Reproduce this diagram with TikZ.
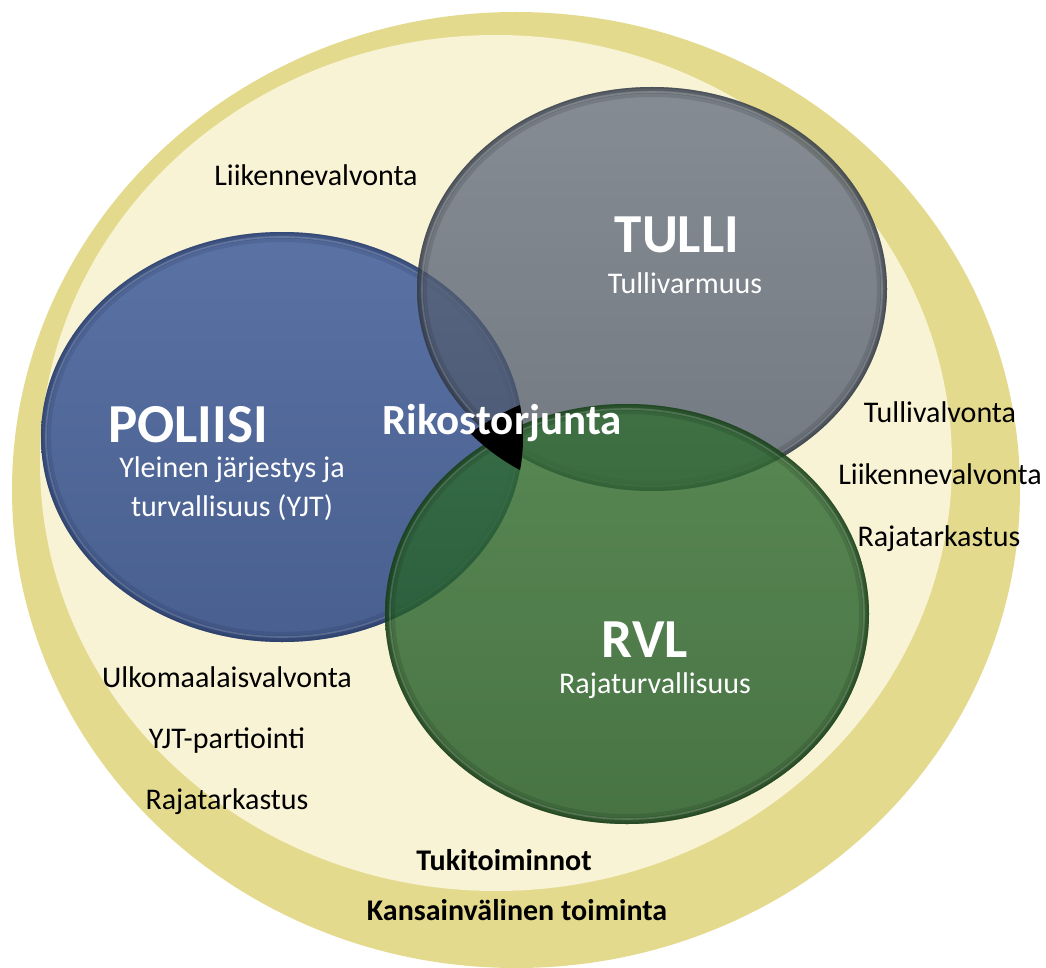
\documentclass[tikz,border=0pt]{standalone}
\usepackage{fontspec}
\setmainfont{Carlito}
\begin{document}
\begin{tikzpicture}[x=1pt,y=-1pt]
% palette
\definecolor{ringkhaki}{RGB}{227,218,142}
\definecolor{creamfill}{RGB}{248,243,212}
\definecolor{bluetop}{RGB}{90,114,164}
\definecolor{bluebot}{RGB}{72,95,143}
\definecolor{bluerim}{RGB}{30,46,86}
\definecolor{greytop}{RGB}{98,108,128}
\definecolor{greybot}{RGB}{74,84,104}
\definecolor{greyrim}{RGB}{35,40,48}
\definecolor{greentop}{RGB}{50,110,52}
\definecolor{greenbot}{RGB}{28,84,32}
\definecolor{greenrim}{RGB}{15,42,15}
\tikzset{
  lbl/.style={font=\fontsize{30}{36}\selectfont, anchor=base, inner sep=0pt},
  lblbold/.style={lbl, font=\fontsize{30}{36}\selectfont\bfseries},
  sublbl/.style={lbl, text=white},
  titlelbl/.style={font=\fontsize{55}{60}\selectfont\bfseries, text=white, anchor=base, inner sep=0pt},
  rimA/.style={line width=20pt, opacity=0.16},
  rimB/.style={line width=13pt, opacity=0.18},
  rimC/.style={line width=7pt, opacity=0.2},
  rimD/.style={line width=3pt, opacity=0.2},
  glint/.style={white, opacity=0.16, line width=1.6pt}
}
\useasboundingbox (0,0) rectangle (1046,968);

% outer ring and inner field
\fill[ringkhaki] (516,490) ellipse [x radius=504, y radius=478];
\fill[creamfill] (496,463) ellipse [x radius=456, y radius=428];

% POLIISI disc
\shade[top color=bluetop, bottom color=bluebot] (282,437) ellipse [x radius=241, y radius=205];
\begin{scope}
  \clip (282,437) ellipse [x radius=241, y radius=205];
  \foreach \r in {rimA,rimB,rimC,rimD}
    \draw[bluerim, \r] (282,437) ellipse [x radius=241, y radius=205];
  \draw[glint] (282,437) ellipse [x radius=236, y radius=200];
\end{scope}

% TULLI disc (translucent)
\begin{scope}[opacity=0.76]
  \shade[top color=greytop, bottom color=greybot] (652,289) ellipse [x radius=235, y radius=202];
\end{scope}
\begin{scope}
  \clip (652,289) ellipse [x radius=235, y radius=202];
  \foreach \r in {rimA,rimB,rimC,rimD}
    \draw[greyrim, \r] (652,289) ellipse [x radius=235, y radius=202];
  \draw[glint] (652,289) ellipse [x radius=230, y radius=197];
\end{scope}

% RVL disc (translucent)
\begin{scope}[opacity=0.8]
  \shade[top color=greentop, bottom color=greenbot] (627,614) ellipse [x radius=242, y radius=210];
\end{scope}
\begin{scope}
  \clip (627,614) ellipse [x radius=242, y radius=210];
  \foreach \r in {rimA,rimB,rimC,rimD}
    \draw[greenrim, \r] (627,614) ellipse [x radius=242, y radius=210];
  \draw[glint] (627,614) ellipse [x radius=237, y radius=205];
\end{scope}

% common core of all three discs
\fill[black] (470,433) .. controls (488,421) and (505,411) .. (520,405)
  .. controls (524,425) and (524,450) .. (520,470)
  .. controls (503,461) and (486,449) .. (470,433) -- cycle;

% labels
\node[lbl] (topliik) at (316,186) {Liikennevalvonta};

\node[titlelbl] (poliisi) at (188,442) {POLIISI};
\node[sublbl] (yjt1) at (232,477) {Yleinen järjestys ja};
\node[sublbl] (yjt2) at (232,516) {turvallisuus (YJT)};

\node[font=\fontsize{43}{50}\selectfont\bfseries, text=white, anchor=base, inner sep=0pt] (rikos) at (502,434) {Rikostorjunta};

\node[titlelbl] (tulli) at (677,253) {TULLI};
\node[sublbl] (tullivarm) at (685,294) {Tullivarmuus};

\node[lbl] (tullival) at (940,422) {Tullivalvonta};
\node[lbl] (rightliik) at (940,484) {Liikennevalvonta};
\node[lbl] (rightraja) at (939,546) {Rajatarkastus};

\node[titlelbl] (rvl) at (645,657) {RVL};
\node[sublbl] (rajatur) at (655,693) {Rajaturvallisuus};

\node[lbl] (ulko) at (227,687) {Ulkomaalaisvalvonta};
\node[lbl] (partio) at (227,748) {YJT-partiointi};
\node[lbl] (leftraja) at (227,809) {Rajatarkastus};

\node[lblbold] (tuki) at (504,870) {Tukitoiminnot};
\node[lblbold] (kansa) at (517,920) {Kansainvälinen toiminta};
\end{tikzpicture}
\end{document}
